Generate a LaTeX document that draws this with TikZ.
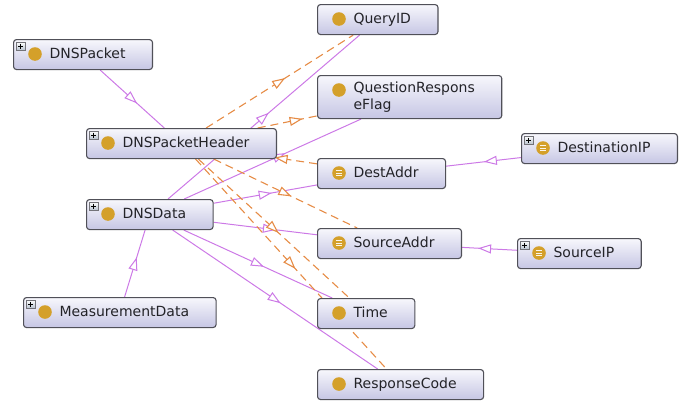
\documentclass[tikz,border=0pt]{standalone}
\usepackage{fontspec}
\setmainfont{DejaVu Sans}
\usetikzlibrary{arrows.meta, decorations.markings}
\definecolor{purp}{RGB}{204,121,230}
\definecolor{orng}{RGB}{230,140,70}
\definecolor{gold}{RGB}{212,160,42}
\definecolor{boxtop}{RGB}{247,247,252}
\definecolor{boxbot}{RGB}{198,198,228}
\definecolor{bord}{RGB}{80,80,88}
\definecolor{txt}{RGB}{35,35,40}
\definecolor{plusbot}{RGB}{185,195,208}
\pgfdeclarelayer{bg}
\pgfsetlayers{bg,main}

\begin{document}
\begin{tikzpicture}[x=1pt, y=-1pt,
    cls/.style={draw=bord, line width=1.1pt, rounded corners=3pt,
        top color=boxtop, bottom color=boxbot, anchor=north west,
        minimum height=30pt, inner xsep=27pt, inner ysep=2pt,
        font=\fontsize{14}{17}\selectfont, text=txt},
    one/.style={text height=10.5pt, text depth=3pt},
    mid/.style={postaction={decorate}, decoration={markings,
        mark=at position #1 with {\arrow[xshift=6.5pt]{Triangle[fill=white, length=13pt, width=9pt]}}}},
    sub/.style={draw=purp, line width=1pt, mid=#1}, sub/.default=0.5,
    obj/.style={draw=orng, line width=1.1pt, dash pattern=on 8pt off 5pt, mid=#1}, obj/.default=0.5,
    plusbox/.style={draw=bord!80, line width=0.5pt, top color=white, bottom color=plusbot},
    eqln/.style={draw=white!90!gold, line width=0.9pt}]
\useasboundingbox (0,0) rectangle (689,407);

% classes, left side
\node[cls, one] (pkt) at (13,39) {\hspace*{9pt}DNSPacket};
\node[cls, one] (hdr) at (86,128) {\hspace*{9pt}DNSPacketHeader};
\node[cls, one] (data) at (86,199) {\hspace*{9pt}DNSData};
\node[cls, one] (meas) at (23,297) {\hspace*{9pt}MeasurementData};
% classes, middle column
\node[cls, one] (qid) at (317,4) {\hspace*{9pt}QueryID};
\node[cls, minimum height=43pt, align=left] (qrf) at (317,75) {\hspace*{9pt}QuestionRespons\\\hspace*{9pt}eFlag};
\node[cls, one] (dest) at (317,158) {\hspace*{9pt}DestAddr};
\node[cls, one] (src) at (317,228) {\hspace*{9pt}SourceAddr};
\node[cls, one] (time) at (317,298) {\hspace*{9pt}Time};
\node[cls, one] (rc) at (317,369) {\hspace*{9pt}ResponseCode};
% classes, right side
\node[cls, one] (dip) at (521,133) {\hspace*{9pt}DestinationIP};
\node[cls, one] (sip) at (517,238) {\hspace*{9pt}SourceIP};

% icons
\foreach \n in {pkt,hdr,data,meas,qid,qrf,dest,src,time,rc,dip,sip}
    \fill[gold] ([shift={(22,15)}]\n.north west) circle (6.8pt);
\foreach \n in {dest,src,dip,sip}
    \foreach \d in {-2.4,0,2.4}
        \draw[eqln] ([shift={(19,15+\d)}]\n.north west) -- +(6,0);
\foreach \n in {pkt,hdr,data,meas,dip,sip} {
    \draw[plusbox] ([shift={(3,3)}]\n.north west) rectangle +(9,8);
    \draw[line width=0.8pt] ([shift={(7.5,4.5)}]\n.north west) -- +(0,5)
        ([shift={(5,7)}]\n.north west) -- +(5,0);
}

\begin{pgfonlayer}{bg}
\draw
(pkt) edge[sub] (hdr)
(meas) edge[sub] (data)
(data) edge[sub] (qid)
(data) edge[sub=0.54] (qrf)
(data) edge[sub] (dest)
(data) edge[sub=0.54] (src)
(data) edge[sub] (time)
(data) edge[sub] (rc)
(dip) edge[sub=0.41] (dest)
(sip) edge[sub=0.59] (src);
\draw
(hdr) edge[obj] (qid)
(hdr) edge[obj=0.65] (qrf)
(dest) edge[obj=0.9] (hdr)
(hdr) edge[obj] (src)
(hdr) edge[obj] (time)
(hdr) edge[obj] (rc);
\end{pgfonlayer}
\end{tikzpicture}
\end{document}
